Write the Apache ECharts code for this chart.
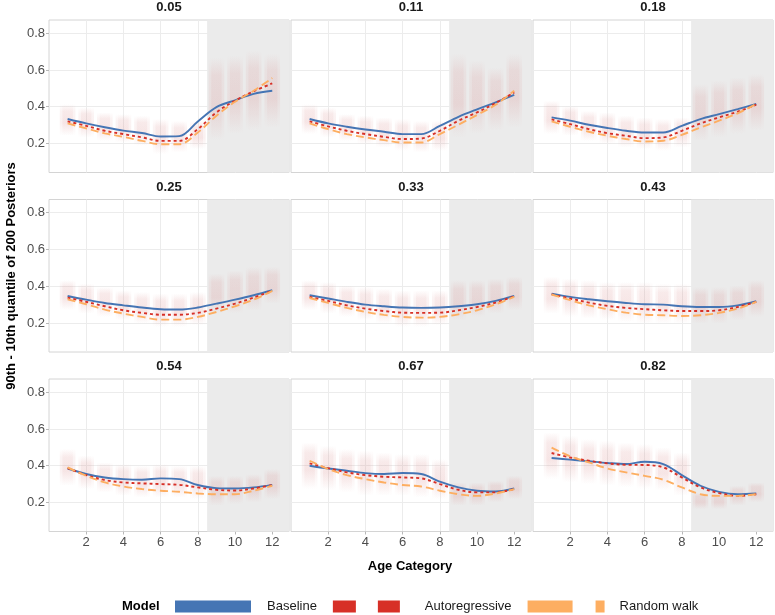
<!DOCTYPE html>
<html><head><meta charset="utf-8">
<script src="https://cdn.jsdelivr.net/npm/echarts@6/dist/echarts.min.js"></script>
<style>html,body{margin:0;padding:0;background:#fff}#c{width:775px;height:615px}</style>
</head><body><div id="c"></div>
<script>
// ---------- data ----------
const ageCategories = [1,2,3,4,5,6,7,8,9,10,11,12];
const panelLabels = ['0.05','0.11','0.18','0.25','0.33','0.43','0.54','0.67','0.82'];
const xTicks = [2,4,6,8,10,12];
const yTicks = [0.2,0.4,0.6,0.8];
const shadeFrom = 8.5;

const baseline_p05 = [0.333,0.309,0.288,0.270,0.257,0.238,0.240,0.320,0.398,0.435,0.470,0.487];
const autoreg_p05  = [0.320,0.296,0.269,0.251,0.233,0.214,0.214,0.278,0.369,0.433,0.484,0.527];
const randwalk_p05 = [0.309,0.282,0.255,0.236,0.214,0.196,0.196,0.260,0.351,0.427,0.487,0.556];

const baseline_p11 = [0.333,0.309,0.291,0.276,0.264,0.251,0.251,0.296,0.345,0.386,0.424,0.464];
const autoreg_p11  = [0.320,0.293,0.269,0.251,0.236,0.224,0.227,0.269,0.324,0.369,0.420,0.478];
const randwalk_p11 = [0.309,0.278,0.251,0.233,0.218,0.205,0.205,0.251,0.302,0.355,0.411,0.487];

const baseline_p18 = [0.342,0.324,0.302,0.284,0.269,0.260,0.260,0.296,0.333,0.360,0.387,0.415];
const autoreg_p18  = [0.331,0.305,0.278,0.256,0.242,0.229,0.233,0.269,0.309,0.342,0.373,0.411];
const randwalk_p18 = [0.320,0.291,0.264,0.242,0.224,0.211,0.215,0.247,0.287,0.324,0.364,0.415];

const baseline_p25 = [0.347,0.327,0.309,0.296,0.284,0.275,0.273,0.284,0.305,0.327,0.351,0.378];
const autoreg_p25  = [0.338,0.315,0.291,0.269,0.255,0.245,0.245,0.255,0.278,0.305,0.338,0.375];
const randwalk_p25 = [0.329,0.302,0.273,0.251,0.233,0.218,0.218,0.233,0.260,0.291,0.327,0.375];

const baseline_p33 = [0.351,0.333,0.315,0.300,0.291,0.284,0.282,0.284,0.291,0.302,0.320,0.347];
const autoreg_p33  = [0.342,0.320,0.296,0.278,0.265,0.256,0.255,0.256,0.269,0.287,0.311,0.345];
const randwalk_p33 = [0.336,0.309,0.282,0.260,0.244,0.233,0.229,0.233,0.247,0.269,0.302,0.342];

const baseline_p43 = [0.360,0.342,0.329,0.318,0.309,0.302,0.300,0.291,0.287,0.287,0.296,0.318];
const autoreg_p43  = [0.356,0.333,0.311,0.293,0.282,0.275,0.269,0.265,0.265,0.269,0.287,0.315];
const randwalk_p43 = [0.355,0.324,0.296,0.275,0.256,0.245,0.242,0.238,0.242,0.255,0.278,0.315];

const baseline_p54 = [0.385,0.355,0.336,0.327,0.324,0.331,0.327,0.295,0.278,0.276,0.282,0.296];
const autoreg_p54  = [0.387,0.349,0.322,0.309,0.304,0.300,0.296,0.282,0.269,0.265,0.276,0.295];
const randwalk_p54 = [0.391,0.345,0.309,0.287,0.273,0.264,0.258,0.249,0.245,0.245,0.264,0.291];

const baseline_p67 = [0.400,0.385,0.373,0.360,0.355,0.360,0.355,0.313,0.282,0.264,0.260,0.276];
const autoreg_p67  = [0.413,0.387,0.364,0.349,0.340,0.336,0.331,0.300,0.269,0.255,0.255,0.273];
const randwalk_p67 = [0.427,0.382,0.349,0.327,0.309,0.295,0.287,0.264,0.245,0.236,0.249,0.273];

const baseline_p82 = [0.442,0.433,0.424,0.415,0.409,0.422,0.409,0.349,0.291,0.258,0.245,0.249];
const autoreg_p82  = [0.469,0.445,0.427,0.413,0.405,0.404,0.391,0.336,0.282,0.251,0.236,0.245];
const randwalk_p82 = [0.498,0.451,0.418,0.385,0.364,0.345,0.324,0.282,0.245,0.236,0.236,0.245];

// spread of the posterior point clouds (low / high) per age category
const cloudLo_p05 = [0.242,0.233,0.214,0.205,0.187,0.142,0.151,0.169,0.214,0.251,0.269,0.287];
const cloudHi_p05 = [0.414,0.396,0.369,0.360,0.351,0.333,0.323,0.323,0.669,0.678,0.705,0.687];
const cloudLo_p11 = [0.251,0.233,0.214,0.196,0.178,0.160,0.151,0.160,0.233,0.251,0.269,0.287];
const cloudHi_p11 = [0.414,0.396,0.360,0.351,0.342,0.333,0.323,0.323,0.687,0.651,0.614,0.687];
const cloudLo_p18 = [0.251,0.242,0.214,0.196,0.178,0.169,0.160,0.178,0.214,0.233,0.251,0.269];
const cloudHi_p18 = [0.433,0.405,0.378,0.369,0.351,0.342,0.333,0.342,0.523,0.542,0.560,0.578];
const cloudLo_p25 = [0.269,0.251,0.233,0.214,0.196,0.178,0.178,0.187,0.251,0.251,0.269,0.305];
const cloudHi_p25 = [0.433,0.414,0.396,0.378,0.369,0.360,0.360,0.369,0.469,0.487,0.505,0.505];
const cloudLo_p33 = [0.269,0.251,0.233,0.214,0.196,0.178,0.178,0.187,0.214,0.233,0.251,0.269];
const cloudHi_p33 = [0.433,0.423,0.405,0.396,0.387,0.378,0.378,0.378,0.433,0.433,0.442,0.451];
const cloudLo_p43 = [0.251,0.233,0.223,0.214,0.205,0.196,0.196,0.196,0.196,0.196,0.214,0.233];
const cloudHi_p43 = [0.451,0.442,0.433,0.423,0.423,0.423,0.414,0.414,0.396,0.396,0.405,0.433];
const cloudLo_p54 = [0.291,0.273,0.254,0.236,0.227,0.227,0.227,0.218,0.182,0.191,0.200,0.218];
const cloudHi_p54 = [0.491,0.455,0.418,0.409,0.400,0.409,0.400,0.400,0.345,0.345,0.354,0.382];
const cloudLo_p67 = [0.273,0.264,0.255,0.236,0.236,0.236,0.227,0.218,0.182,0.182,0.200,0.218];
const cloudHi_p67 = [0.527,0.509,0.491,0.482,0.473,0.464,0.464,0.436,0.309,0.309,0.318,0.345];
const cloudLo_p82 = [0.327,0.309,0.300,0.291,0.282,0.273,0.264,0.236,0.164,0.164,0.182,0.200];
const cloudHi_p82 = [0.582,0.564,0.545,0.536,0.527,0.518,0.500,0.473,0.254,0.254,0.291,0.309];

// ---------- assembly ----------
const panels = [
  [baseline_p05, autoreg_p05, randwalk_p05, cloudLo_p05, cloudHi_p05],
  [baseline_p11, autoreg_p11, randwalk_p11, cloudLo_p11, cloudHi_p11],
  [baseline_p18, autoreg_p18, randwalk_p18, cloudLo_p18, cloudHi_p18],
  [baseline_p25, autoreg_p25, randwalk_p25, cloudLo_p25, cloudHi_p25],
  [baseline_p33, autoreg_p33, randwalk_p33, cloudLo_p33, cloudHi_p33],
  [baseline_p43, autoreg_p43, randwalk_p43, cloudLo_p43, cloudHi_p43],
  [baseline_p54, autoreg_p54, randwalk_p54, cloudLo_p54, cloudHi_p54],
  [baseline_p67, autoreg_p67, randwalk_p67, cloudLo_p67, cloudHi_p67],
  [baseline_p82, autoreg_p82, randwalk_p82, cloudLo_p82, cloudHi_p82]
];

const FONT = '"Liberation Sans", Arial, Helvetica, sans-serif';
const C_BASE = '#4575b4', C_AR = '#d73027', C_RW = '#fdae61';
const colLeft = [49, 291, 533], gridW = 240;
const rowTop = [20, 199.5, 379], gridH = 152.5;
const xMin = 0, xMax = 12.9, yMin = 0.042, yMax = 0.872;
const jitterOuter = 0.42, jitterInner = 0.28;

const chart = echarts.init(document.getElementById('c'), null, {renderer: 'canvas'});

const mkFill = (a1, a2) => new echarts.graphic.LinearGradient(0, 0, 0, 1, [
  {offset: 0, color: 'rgba(212,125,125,0.0)'},
  {offset: 0.22, color: 'rgba(212,125,125,' + a1 + ')'},
  {offset: 0.6, color: 'rgba(212,125,125,' + a2 + ')'},
  {offset: 1, color: 'rgba(212,125,125,0.0)'}
]);
const fillOuter = mkFill(0.09, 0.11);
const fillInner = mkFill(0.08, 0.10);

const grids = [], xAxes = [], yAxes = [], series = [], graphics = [];
panels.forEach((p, i) => {
  const r = Math.floor(i / 3), c = i % 3;
  grids.push({left: colLeft[c], top: rowTop[r], width: gridW, height: gridH,
    show: true, borderColor: '#d4d4d4', borderWidth: 1, containLabel: false, outerBoundsMode: 'none'});
  xAxes.push({gridIndex: i, type: 'value', min: xMin, max: xMax,
    axisLine: {show: false},
    axisTick: {show: r === 2, customValues: xTicks, length: 3, lineStyle: {color: '#b8b8b8'}},
    axisLabel: {show: r === 2, customValues: xTicks, fontSize: 13, color: '#4d4d4d', margin: 4, fontFamily: FONT},
    splitLine: {show: true, lineStyle: {color: '#ececec', width: 1}}
  });
  yAxes.push({gridIndex: i, type: 'value', min: yMin, max: yMax,
    axisLine: {show: false},
    axisTick: {show: c === 0, customValues: yTicks, length: 3, lineStyle: {color: '#b8b8b8'}},
    axisLabel: {show: c === 0, customValues: yTicks, fontSize: 13, color: '#4d4d4d', margin: 4, fontFamily: FONT,
      formatter: v => v.toFixed(1)},
    splitLine: {show: true, lineStyle: {color: '#ececec', width: 1}}
  });
  // shaded region
  series.push({type: 'line', name: 'shade', xAxisIndex: i, yAxisIndex: i, data: [], silent: true, z: 1,
    markArea: {silent: true, itemStyle: {color: '#ebebeb'}, data: [[{xAxis: shadeFrom}, {xAxis: xMax}]]}});
  // point clouds
  series.push({type: 'custom', name: 'cloud', xAxisIndex: i, yAxisIndex: i, z: 2, silent: true,
    data: ageCategories.map((a, j) => [a, p[3][j], p[4][j]]),
    renderItem: (params, api) => {
      const x = api.value(0), lo = api.value(1), hi = api.value(2);
      const o1 = api.coord([x - jitterOuter, hi]), o2 = api.coord([x + jitterOuter, lo]);
      const i1 = api.coord([x - jitterInner, hi]), i2 = api.coord([x + jitterInner, lo]);
      return {type: 'group', children: [
        {type: 'rect', shape: {x: o1[0], y: o1[1], width: o2[0] - o1[0], height: o2[1] - o1[1]}, style: {fill: fillOuter}},
        {type: 'rect', shape: {x: i1[0], y: i1[1], width: i2[0] - i1[0], height: i2[1] - i1[1]}, style: {fill: fillInner}}
      ]};
    }
  });
  const mk = (name, arr, color, type) => ({
    type: 'line', name, xAxisIndex: i, yAxisIndex: i, z: 3,
    data: ageCategories.map((a, j) => [a, arr[j]]),
    showSymbol: false, smooth: 0.35, silent: true,
    itemStyle: {color}, lineStyle: {color, width: 1.9, type}
  });
  series.push(mk('Baseline', p[0], C_BASE, 'solid'));
  series.push(mk('Autoregressive', p[1], C_AR, [3, 3]));
  series.push(mk('Random walk', p[2], C_RW, [8, 4]));
  graphics.push({type: 'text', x: colLeft[c] + gridW / 2, y: rowTop[r] - 12.5,
    style: {text: panelLabels[i], font: 'bold 13px ' + FONT, fill: '#1a1a1a',
      align: 'center', verticalAlign: 'middle', textAlign: 'center', textVerticalAlign: 'middle'}});
});

graphics.push({type: 'text', x: 410, y: 566,
  style: {text: 'Age Category', font: 'bold 13px ' + FONT, fill: '#000',
    align: 'center', verticalAlign: 'middle', textAlign: 'center', textVerticalAlign: 'middle'}});
graphics.push({type: 'text', x: 11, y: 276, rotation: Math.PI / 2,
  style: {text: '90th - 10th quantile of 200 Posteriors', font: 'bold 13px ' + FONT, fill: '#000',
    align: 'center', verticalAlign: 'middle', textAlign: 'center', textVerticalAlign: 'middle'}});
graphics.push({type: 'text', x: 122, y: 606,
  style: {text: 'Model', font: 'bold 13px ' + FONT, fill: '#000',
    align: 'left', verticalAlign: 'middle', textAlign: 'left', textVerticalAlign: 'middle'}});

const keyBase = 'path://M0,0H76V12H0Z M87,0L87,12';
const keyAR = 'path://M0,0H23V12H0Z M45,0H67V12H45Z M87,0L87,12';
const keyRW = 'path://M0,0H45V12H0Z M68,0H77V12H68Z M87,0L87,12';

chart.setOption({
  animation: false,
  backgroundColor: '#fff',
  textStyle: {fontFamily: FONT},
  grid: grids, xAxis: xAxes, yAxis: yAxes, series,
  legend: {left: 175, top: 600, orient: 'horizontal', itemWidth: 87, itemHeight: 12, itemGap: 16, padding: 0,
    selectedMode: false, textStyle: {fontSize: 13, color: '#1a1a1a', fontFamily: FONT},
    itemStyle: {borderWidth: 0},
    data: [{name: 'Baseline', icon: keyBase}, {name: 'Autoregressive', icon: keyAR}, {name: 'Random walk', icon: keyRW}]},
  graphic: graphics
});
</script></body></html>
